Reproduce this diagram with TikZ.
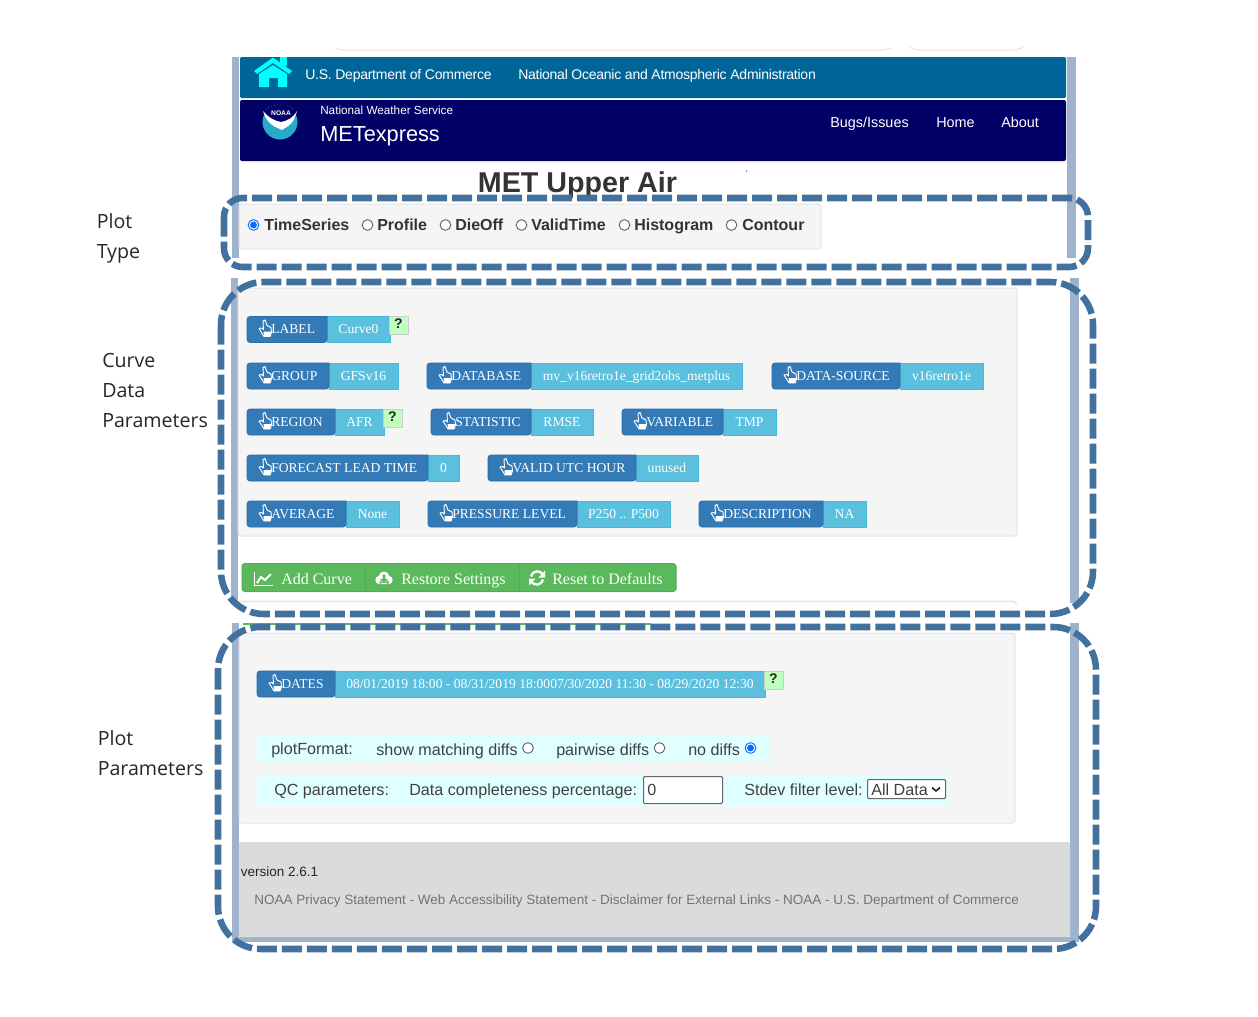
\documentclass[tikz,border=0pt]{standalone}
\usepackage{fontspec}
\setmainfont{Liberation Sans}
\newfontfamily\btnFont{Liberation Serif}
\newfontfamily\noteFont{Open Sans}
\newfontfamily\tightFont[LetterSpace=-1.8]{Liberation Sans}
\usetikzlibrary{arrows, calc, positioning}
\definecolor{hdrTeal}{RGB}{0,102,153}
\definecolor{hdrNavy}{RGB}{0,0,102}
\definecolor{homeCyan}{RGB}{0,255,255}
\definecolor{logoTeal}{RGB}{40,170,205}
\definecolor{btnBlue}{HTML}{337AB7}
\definecolor{btnBlueEdge}{HTML}{2E6DA4}
\definecolor{valBlue}{HTML}{5BC0DE}
\definecolor{valBlueEdge}{HTML}{46B8DA}
\definecolor{btnGreen}{HTML}{5CB85C}
\definecolor{btnGreenEdge}{HTML}{4CAE4C}
\definecolor{dashBlue}{HTML}{41719C}
\definecolor{barGrey}{HTML}{9FB3CC}
\definecolor{radioBlue}{HTML}{0B6CFB}
\definecolor{stripCyan}{HTML}{E0FFFF}
\tikzset{
    txt/.style={inner sep=0pt, anchor=base west},
    note/.style={txt, font=\fontsize{14.7}{18}\selectfont\noteFont, text=black!85},
    hdr/.style={txt, text=white, font=\fontsize{10.8}{12}\selectfont},
    hdrTop/.style={txt, text=white, font=\fontsize{10.5}{12}\selectfont\tightFont},
    kind/.style={txt, text=black!80, font=\fontsize{12}{14}\selectfont\bfseries},
    form/.style={txt, text=black!75, font=\fontsize{12.1}{14}\selectfont},
    foot/.style={txt, font=\fontsize{10.13}{12}\selectfont},
    btnText/.style={inner sep=0pt, text=white, font=\fontsize{10.2}{12}\selectfont\btnFont},
    greenText/.style={txt, text=white, font=\fontsize{12}{14}\selectfont\btnFont},
    panel/.style={fill=black!4, draw=black!11, line width=.75pt, rounded corners=2pt},
    bar/.style={fill=barGrey, draw=none},
    strip/.style={fill=stripCyan, draw=none},
    regionBox/.style={draw=dashBlue, line width=4.9pt, dash pattern=on 15pt off 3.75pt},
    radioOff/.style={circle, draw=black!60, fill=white, line width=.7pt, inner sep=0pt, minimum size=8pt},
    radioOn/.style={circle, draw=radioBlue, fill=white, line width=.7pt, inner sep=0pt, minimum size=8pt, path picture={\fill[radioBlue] (path picture bounding box.center) circle (2.6pt);}},
    helpBox/.style={fill=green!25, draw=black!20, line width=.75pt},
}
\newcommand{\drawParam}[7]{
    \fill[valBlue, draw=valBlueEdge, line width=.5pt] (#3,#5) rectangle (#4,#5+26);
    \draw[fill=btnBlue, draw=btnBlueEdge, line width=.5pt, rounded corners=2.2pt] (#3,#5) -- (#2,#5) -- (#2,#5+26) -- (#3,#5+26) [sharp corners] -- cycle;
    % hand icon
    \draw[white, line width=.7pt, line join=round] (#2+16,#5+4.5) -- (#2+18,#5+3.5) -- (#2+20,#5+9) -- (#2+24,#5+11) -- (#2+24.5,#5+16) -- (#2+23,#5+20) -- (#2+17,#5+20) -- (#2+12,#5+12) -- (#2+14.5,#5+11.5) -- (#2+16.5,#5+13) -- cycle;
    \fill[white] (#2+16.5,#5+15) -- (#2+24,#5+15) -- (#2+23,#5+20) -- (#2+17,#5+20) -- cycle;
    \node[btnText, anchor=base west] (#1Key) at (#2+24,#5+17) {#6};
    \node[btnText, anchor=base] (#1Val) at ({(#3+#4)/2},#5+17) {#7};
}
\newcommand{\drawHelp}[3]{
    \draw[helpBox] (#2,#3) rectangle (#2+19,#3+18);
    \node[inner sep=0pt, font=\fontsize{10.5}{12}\selectfont\bfseries, text=black!85] (#1) at (#2+9.5,#3+8) {?};
}
\begin{document}
\begin{tikzpicture}[x=.75pt, y=-.75pt]
    \useasboundingbox (0,0) rectangle (1258,1017);

    % browser leftovers
    \draw[black!10, line width=.75pt, rounded corners=3pt] (335,48) -- (340,50) -- (886,50) -- (891,48);
    \draw[black!10, line width=.75pt, rounded corners=3pt] (910,47) -- (915,50) -- (1018,50) -- (1023,47);

    % side bars
    \fill[bar] (232,57) rectangle (239,258);
    \fill[bar] (1067,57) rectangle (1076,258);
    \fill[bar] (231,278) rectangle (238,603);
    \fill[bar] (1070,278) rectangle (1079,603);
    \fill[bar] (232,623) rectangle (239,942);
    \fill[bar] (1070,623) rectangle (1079,942);
    \fill[bar] (232,937) rectangle (1079,942);

    % header
    \fill[hdrTeal, rounded corners=1pt] (240,57) rectangle (1066,98);
    \fill[hdrNavy, rounded corners=1.5pt] (240,100) rectangle (1066,161);
    \fill[homeCyan] (280,57) rectangle (287,66);
    \fill[homeCyan] (254,71) -- (273,57.5) -- (292,71) -- (289,74) -- (273,63) -- (257,74) -- cycle;
    \fill[homeCyan] (259,74) -- (273,65) -- (287,74) -- (287,87) -- (278,87) -- (278,78) -- (269,78) -- (269,87) -- (259,87) -- cycle;
    \node[hdrTop] (commerce) at (305,79) {U.S. Department of Commerce};
    \node[hdrTop] (noaaName) at (518,79) {National Oceanic and Atmospheric Administration};
    \fill[logoTeal] (280,122) circle (17.5);
    \fill[hdrNavy] (261,100) rectangle (299,112) (263,112) .. controls (268,122) and (276,126) .. (281,129) .. controls (286,126) and (294,122) .. (298,112) -- cycle;
    \fill[white] (263,111) .. controls (267,125) and (276,127) .. (282,130) .. controls (286,127) and (294,125) .. (297,111) .. controls (293,118) and (287,121) .. (281,122) .. controls (275,121) and (269,118) .. (263,111) -- cycle;
    \draw[white!60!hdrNavy, line width=.4pt, dotted] (266,110) .. controls (270,103) and (290,103) .. (294,110);
    \node[inner sep=0pt, text=white, font=\fontsize{5}{6}\selectfont\bfseries] (logoText) at (281,113) {NOAA};
    \node[hdr, font=\fontsize{8.8}{11}\selectfont] (nws) at (320,114) {National Weather Service};
    \node[hdr, font=\fontsize{16.3}{20}\selectfont] (appName) at (320,141) {METexpress};
    \node[hdr] (bugs) at (830,127) {Bugs/Issues};
    \node[hdr] (home) at (936,127) {Home};
    \node[hdr] (about) at (1001,127) {About};
    \node[txt, anchor=base, text=black!80, font=\fontsize{21.5}{25}\selectfont\bfseries] (title) at (577.5,192) {MET Upper Air};
    \fill[blue] (746.5,171) circle (.7);

    % plot type
    \draw[panel] (239,204) rectangle (821,249);
    \node[radioOn] (rTime) at (253.5,225) {};
    \node[kind] (kTime) at (264,230) {TimeSeries};
    \node[radioOff] (rProfile) at (367.5,225) {};
    \node[kind] (kProfile) at (377,230) {Profile};
    \node[radioOff] (rDie) at (445.5,225) {};
    \node[kind] (kDie) at (455,230) {DieOff};
    \node[radioOff] (rValid) at (521.5,225) {};
    \node[kind] (kValid) at (531,230) {ValidTime};
    \node[radioOff] (rHist) at (624.5,225) {};
    \node[kind] (kHist) at (634,230) {Histogram};
    \node[radioOff] (rCont) at (731.5,225) {};
    \node[kind] (kCont) at (742,230) {Contour};

    % curve data
    \draw[panel] (238,288) rectangle (1017,536);
    \drawParam{label}{247}{327}{390}{316.5}{LABEL}{Curve0}
    \drawHelp{helpLabel}{389}{316}
    \drawParam{group}{247}{329}{398}{363}{GROUP}{GFSv16}
    \drawParam{database}{427}{531}{742}{363}{DATABASE}{mv\_v16retro1e\_grid2obs\_metplus}
    \drawParam{source}{772}{900}{983}{363}{DATA-SOURCE}{v16retro1e}
    \drawParam{region}{247}{335}{384}{409}{REGION}{AFR}
    \drawHelp{helpRegion}{383}{409}
    \drawParam{statistic}{431}{531}{593}{409}{STATISTIC}{RMSE}
    \drawParam{variable}{622}{723}{776}{409}{VARIABLE}{TMP}
    \drawParam{lead}{247}{428}{459}{455}{FORECAST LEAD TIME}{0}
    \drawParam{hour}{488}{636}{698}{455}{VALID UTC HOUR}{unused}
    \drawParam{average}{247}{346}{399}{501}{AVERAGE}{None}
    \drawParam{pressure}{428}{577}{670}{501}{PRESSURE LEVEL}{P250 .. P500}
    \drawParam{description}{699}{823}{866}{501}{DESCRIPTION}{NA}

    % green buttons
    \draw[fill=btnGreen, draw=btnGreenEdge, line width=.75pt, rounded corners=2.2pt] (242,563.5) rectangle (676,591.5);
    \draw[btnGreenEdge, line width=.75pt] (365,564) -- (365,591);
    \draw[btnGreenEdge, line width=.75pt] (519,564) -- (519,591);
    \draw[white, line width=.9pt] (254.5,572) -- (254.5,585.5) -- (273,585.5);
    \draw[white, line width=1.5pt] (257,583) -- (261,577) -- (265,580) -- (271,574);
    \node[greenText] (addCurve) at (281,584) {Add Curve};
    \fill[white] (379.5,580) circle (4.2) (384,577) circle (5.5) (388.5,580) circle (4.2) (379.5,580) rectangle (388.5,584.2);
    \fill[btnGreen] (382.7,574.5) rectangle (385.3,579) (380,579) -- (388,579) -- (384,583) -- cycle;
    \node[greenText] (restore) at (401,584) {Restore Settings};
    \draw[white, line width=1.7pt] (531,576.5) .. controls (533,570) and (540,570) .. (543,574.5);
    \fill[white] (545,570.5) -- (545,577.5) -- (538.5,577.5) -- cycle;
    \draw[white, line width=1.7pt] (543,579.5) .. controls (541,586) and (534,586) .. (531,581.5);
    \fill[white] (529,585.5) -- (529,578.5) -- (535.5,578.5) -- cycle;
    \node[greenText] (reset) at (552,584) {Reset to Defaults};
    \fill[black!4] (238,601) rectangle (1016,603);
    \draw[black!11, line width=.75pt, rounded corners=2pt] (238,603) -- (238,601) -- (1016,601) -- (1016,603);
    \fill[btnGreen] (243,622.5) rectangle (651,625);

    % plot parameters
    \draw[panel] (239,633) rectangle (1015,823);
    \drawParam{dates}{257}{335}{765}{671}{DATES}{08/01/2019 18:00 - 08/31/2019 18:0007/30/2020 11:30 - 08/29/2020 12:30}
    \drawHelp{helpDates}{764}{671}
    \fill[strip] (257,736) rectangle (769,761);
    \fill[strip] (257,776) rectangle (947,805.5);
    \node[form] (plotFormat) at (271,754) {plotFormat:};
    \node[form] (matching) at (376,755) {show matching diffs};
    \node[radioOff] (rMatching) at (528,748) {};
    \node[form] (pairwise) at (556,755) {pairwise diffs};
    \node[radioOff] (rPairwise) at (659.5,748) {};
    \node[form] (noDiffs) at (688,755) {no diffs};
    \node[radioOn] (rNoDiffs) at (750.5,748) {};
    \node[form] (qc) at (274,795) {QC parameters:};
    \node[form] (complete) at (409,795) {Data completeness percentage:};
    \draw[fill=white, draw=black!60, line width=.75pt, rounded corners=.8pt] (643.5,776.5) rectangle (722.5,803.5);
    \node[form] (completeVal) at (647,795) {0};
    \node[form] (stdev) at (744,795) {Stdev filter level:};
    \draw[fill=white, draw=black!60, line width=.75pt, rounded corners=.8pt] (867.5,779.5) rectangle (945.5,798.5);
    \node[form] (stdevVal) at (871,795) {All Data};
    \draw[black!85, line width=1.2pt] (932,787.5) -- (936,791) -- (940,787.5);

    % footer
    \fill[black!14, rounded corners=1pt] (239,842) rectangle (1070,937);
    \node[foot, text=black!85] (version) at (240.5,876) {version 2.6.1};
    \node[foot, text=black!55] (links) at (254,904) {NOAA Privacy Statement - Web Accessibility Statement - Disclaimer for External Links - NOAA - U.S. Department of Commerce};

    % side labels
    \node[note] (plotA) at (96.5,228) {Plot};
    \node[note] (typeA) at (96.5,258) {Type};
    \node[note] (curveB) at (102,367) {Curve};
    \node[note] (dataB) at (102,397) {Data};
    \node[note] (paramB) at (102,427) {Parameters};
    \node[note] (plotC) at (97.5,745) {Plot};
    \node[note] (paramC) at (97.5,775) {Parameters};

    % dashed regions
    \draw[regionBox, rounded corners=14pt] (224,198) rectangle (1088,267);
    \draw[regionBox, rounded corners=32pt] (221,282) rectangle (1093,614);
    \draw[regionBox, rounded corners=32pt] (218,627) rectangle (1096,949);

\end{tikzpicture}
\end{document}
